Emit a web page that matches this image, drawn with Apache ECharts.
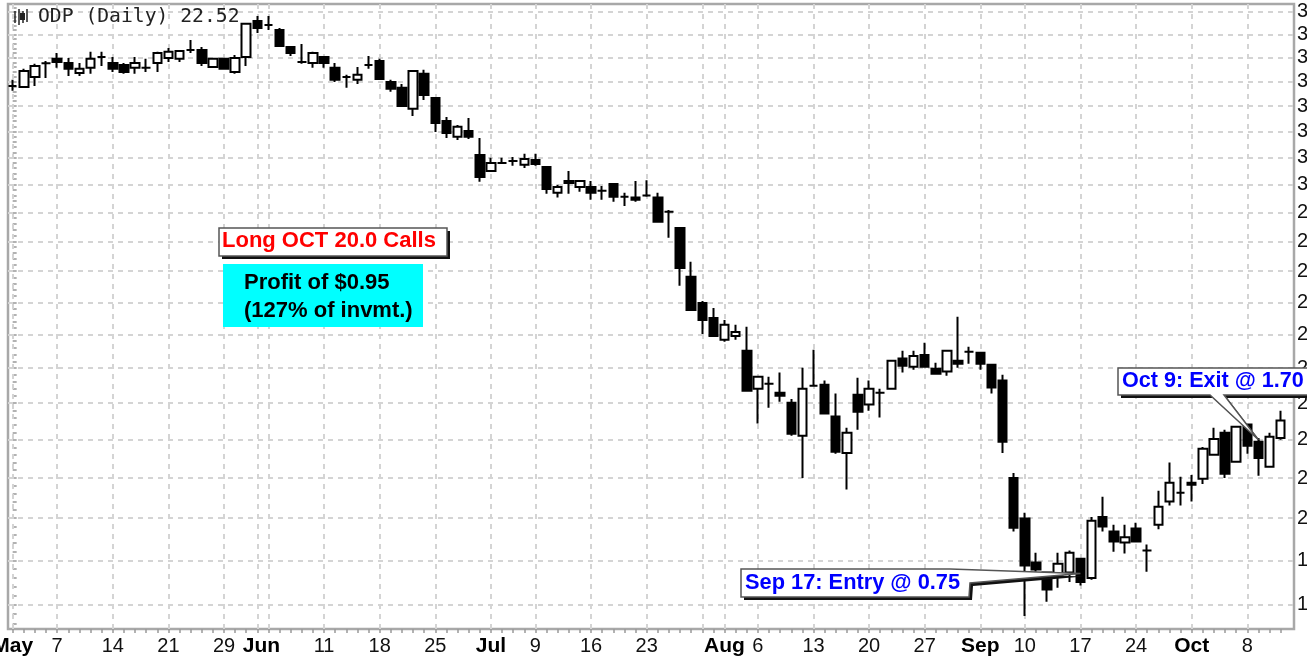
<!DOCTYPE html>
<html><head><meta charset="utf-8">
<style>html,body{margin:0;padding:0;background:#fff;overflow:hidden}#c{width:1307px;height:657px;filter:blur(0.4px)}</style>
<script src="https://cdn.jsdelivr.net/npm/echarts@6/dist/echarts.min.js"></script>
</head><body><div id="c"></div>
<script>
const opens=[33.82,33.78,34.19,34.76,34.95,34.78,34.36,34.57,35.03,34.78,34.69,34.57,34.57,34.78,34.99,34.95,35.33,35.33,34.61,34.95,34.40,35.03,36.60,36.42,36.20,35.46,34.82,34.78,35.03,34.57,34.19,34.07,34.69,34.86,33.98,33.74,32.89,34.32,33.33,32.41,31.79,32.02,31.10,30.50,30.80,30.87,30.73,30.91,30.65,29.70,30.13,29.91,29.91,29.77,30.02,29.56,29.53,29.60,29.53,29.02,28.46,26.82,25.98,25.51,24.84,24.96,24.51,23.41,23.55,23.29,23.01,22.11,23.49,23.52,22.63,21.65,23.24,22.96,23.29,23.41,24.28,24.04,24.39,23.98,23.90,24.22,24.48,24.45,24.10,23.64,21.00,19.99,18.95,18.72,18.67,18.72,19.04,18.60,20.03,19.68,19.42,19.75,19.23,19.84,20.41,20.63,20.88,20.98,21.60,22.19,21.42,22.41,21.95,21.29,22.05];
const closes=[33.82,34.44,34.65,34.76,34.82,34.53,34.53,34.95,35.03,34.53,34.40,34.78,34.57,35.20,35.25,35.29,35.33,34.78,34.95,34.53,34.99,36.47,36.29,36.42,35.50,35.20,34.82,35.20,34.78,34.07,34.19,34.28,34.69,34.11,33.70,33.00,34.44,33.45,32.33,31.94,32.18,31.79,30.28,30.80,30.80,30.87,30.95,30.76,29.84,29.91,30.06,30.13,29.70,29.77,29.56,29.56,29.45,29.60,28.67,29.02,27.11,25.76,25.45,24.96,25.30,25.08,23.35,23.75,23.55,23.21,22.16,23.41,23.49,22.71,21.68,22.19,22.76,23.41,23.29,24.22,24.07,24.36,24.04,23.84,24.51,24.13,24.48,24.13,23.44,21.95,19.77,18.88,18.79,18.34,18.92,19.18,18.51,19.94,19.80,19.44,19.54,19.44,19.23,20.28,20.88,20.63,20.83,21.76,22.02,21.11,22.35,21.84,21.52,22.08,22.52];
const lows=[33.62,33.78,33.82,34.15,34.57,34.23,34.23,34.32,34.65,34.40,34.32,34.32,34.40,34.40,34.82,34.82,35.20,34.65,34.61,34.49,34.32,34.65,36.07,36.20,35.50,35.07,34.74,34.57,34.57,33.98,33.74,33.90,34.53,34.11,33.58,32.96,32.61,33.25,31.98,31.75,31.67,31.71,30.10,30.50,30.76,30.69,30.61,30.69,29.67,29.53,29.67,29.74,29.45,29.45,29.38,29.23,29.38,29.56,28.67,28.12,26.53,25.76,25.02,24.96,24.78,24.84,23.32,22.44,22.87,23.04,22.11,21.00,23.47,22.71,21.63,20.71,22.27,22.79,22.60,23.41,23.87,23.95,24.04,23.84,23.78,24.01,24.13,23.95,23.27,21.65,19.68,17.76,18.74,18.07,18.38,18.51,18.43,18.56,19.68,19.20,19.16,19.42,18.74,19.73,20.31,20.31,20.41,20.85,21.60,21.00,21.40,21.63,21.06,21.29,22.00];
const highs=[34.07,34.53,34.74,34.86,35.20,34.99,34.78,35.25,35.25,35.03,34.78,35.03,34.95,35.25,35.42,35.33,35.76,35.46,34.95,34.99,35.11,36.47,36.82,36.82,36.29,35.46,35.59,35.25,35.07,34.78,34.28,34.61,35.07,34.95,34.07,33.90,34.44,34.49,33.33,32.57,32.25,32.53,31.75,30.99,30.99,31.02,31.14,31.14,30.65,29.99,30.50,30.13,30.13,29.95,30.02,29.70,30.13,30.16,29.70,29.09,28.46,27.31,26.04,25.82,25.45,25.30,25.24,23.75,23.75,23.87,23.12,24.01,24.54,23.64,23.27,22.32,23.72,23.64,23.41,24.22,24.51,24.51,24.75,24.16,24.51,25.55,24.63,24.45,24.10,23.81,21.13,20.13,19.18,18.74,19.18,19.23,19.04,20.03,20.53,19.84,19.84,19.89,19.37,20.68,21.40,21.03,21.08,21.81,22.32,22.27,22.35,22.41,22.05,22.19,22.79];
const tickDays=[0,4,9,14,19,22,28,33,38,43,47,52,57,64,67,72,77,82,87,91,96,101,106,111];
const tickLabels=['May','7','14','21','29','Jun','11','18','25','Jul','9','16','23','Aug','6','13','20','27','Sep','10','17','24','Oct','8'];
const monthLabels=['May','Jun','Jul','Aug','Sep','Oct'];
const extraGridDays=[23,62];
const priceTicks=[18,19,20,21,22,23,24,25,26,27,28,29,30,31,32,33,34,35,36,37];
const entryDay=96, entryPrice=18.70, exitDay=112, exitPrice=22.00;

const candleData=opens.map((o,i)=>[i,o,closes[i],lows[i],highs[i]]);
const dayTicks=opens.map((o,i)=>i);
const minorPriceTicks=[];
for(let v=17.6;v<37.3;v+=0.2)minorPriceTicks.push(+v.toFixed(1));
const grey='#d4d4d4';
const gridLine={silent:true,symbol:'none',animation:false,z:1,label:{show:false},lineStyle:{color:grey,type:[5,5],width:2},emphasis:{disabled:true},
 data:[...tickDays,...extraGridDays].map(d=>({xAxis:d})).concat(priceTicks.map(p=>({yAxis:p})))};
const FONT='"Liberation Sans",Arial,sans-serif';
const chart=echarts.init(document.getElementById('c'),null,{renderer:'canvas'});
chart.setOption({
 animation:false,backgroundColor:'#fff',
 grid:{left:8,right:13,top:4,bottom:28,show:true,borderColor:'#a8a8a8',borderWidth:2.5,backgroundColor:'#fff',outerBoundsMode:'none',containLabel:false},
 xAxis:{type:'value',min:-0.42,max:115.2,splitLine:{show:false},axisLine:{show:false},
  axisTick:{show:true,length:4,customValues:dayTicks,lineStyle:{color:'#999',width:1.5}},
  minorTick:{show:false},
  axisLabel:{show:true,customValues:tickDays,margin:7,color:'#111',fontFamily:FONT,fontSize:20,hideOverlap:false,showMinLabel:true,showMaxLabel:true,
   formatter:v=>{const t=tickLabels[tickDays.indexOf(v)];return t==='Jun'?`{j|${t}}`:monthLabels.includes(t)?`{b|${t}}`:t;},
   rich:{b:{fontWeight:'bold',fontSize:21,fontFamily:FONT,color:'#000'},j:{fontWeight:'bold',fontSize:21,fontFamily:FONT,color:'#000',padding:[0,0,0,8]}}}},
 yAxis:{type:'log',logBase:10,min:17.48,max:37.36,position:'right',splitLine:{show:false},minorTick:{show:false},axisLine:{show:false},
  axisTick:{show:true,length:4,customValues:minorPriceTicks,lineStyle:{color:'#999',width:1.5}},
  axisLabel:{show:true,customValues:priceTicks,margin:3,align:'left',color:'#111',fontFamily:FONT,fontSize:20,formatter:v=>String(Math.round(v))}},
 series:[
  {type:'scatter',name:'grid',z:1,symbolSize:0,silent:true,data:[[0,opens[0]]],markLine:gridLine},
  {type:'candlestick',name:'ODP',barWidth:9,z:3,encode:{x:0,y:[1,2,3,4]},
  itemStyle:{color:'#fff',color0:'#000',borderColor:'#000',borderColor0:'#000',borderColorDoji:'#000',borderWidth:2},
  data:candleData,emphasis:{disabled:true}}]
});
function callout(pts,z){return [
 {type:'polygon',z:z,shape:{points:pts.map(p=>[p[0]+3,p[1]+3])},style:{fill:'#111'},silent:true},
 {type:'polygon',z:z+1,shape:{points:pts},style:{fill:'#fff',stroke:'#555',lineWidth:1.5},silent:true}];}
const a=chart.convertToPixel({xAxisIndex:0,yAxisIndex:0},[entryDay,entryPrice]);
const b=chart.convertToPixel({xAxisIndex:0,yAxisIndex:0},[exitDay,exitPrice]);
const txt=(x,y,t,fill,size)=>({type:'text',z:20,x:x,y:y,silent:true,style:{text:t,fill:fill,font:`bold ${size}px ${FONT}`,verticalAlign:'middle'}});
const icon=[[15,11,23],[19,9,25],[23,11,23],[27,9,22]].map(r=>({type:'line',z:20,silent:true,shape:{x1:r[0],y1:r[1],x2:r[0],y2:r[2]},style:{stroke:'#222',lineWidth:1.5}}));
chart.setOption({graphic:[
 ...icon,
 {type:'rect',z:19,silent:true,shape:{x:20,y:13,width:5,height:7},style:{fill:'#222'}},
 {type:'text',z:20,x:38,y:17,silent:true,style:{text:'ODP (Daily) 22.52',fill:'#222',font:'19.7px "DejaVu Sans Mono"',verticalAlign:'middle'}},
 ...callout([[219,228],[447,228],[447,256],[219,256]],15),
 txt(222,241,'Long OCT 20.0 Calls','#ff0000',22),
 {type:'rect',z:15,silent:true,shape:{x:223,y:264,width:200,height:63},style:{fill:'#00ffff'}},
 txt(244,283,'Profit of $0.95','#000',22),
 txt(244,311,'(127% of invmt.)','#000',22),
 ...callout([[741,569],[950,569],[a[0],a[1]],[970,583],[969,597],[741,597]],15),
 txt(745,583,'Sep 17: Entry @ 0.75','#0000ff',21.8),
 ...callout([[1118,368],[1312,368],[1312,395],[1224,395],[b[0],b[1]],[1210,395],[1118,395]],15),
 txt(1122,381,'Oct 9: Exit @ 1.70','#0000ff',21.6)
]});
</script></body></html>
